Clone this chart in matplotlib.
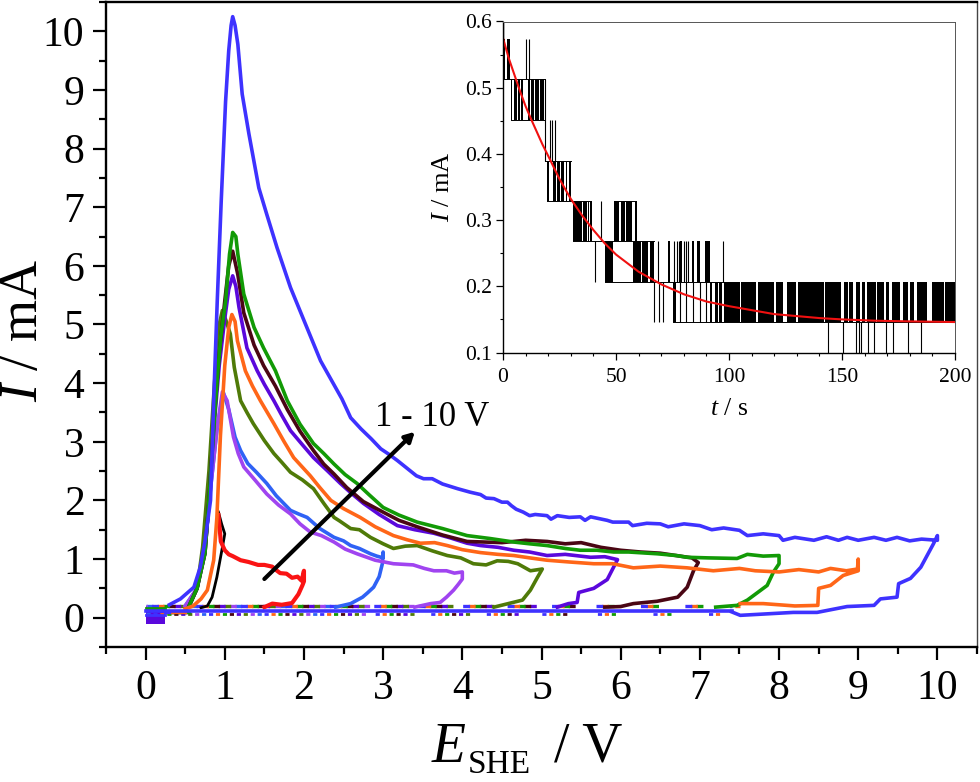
import matplotlib
matplotlib.use('Agg')
import matplotlib.pyplot as plt
from matplotlib.ticker import MultipleLocator, FormatStrFormatter

plt.rcParams['font.family'] = ['Liberation Serif', 'DejaVu Serif']
plt.rcParams['mathtext.fontset'] = 'custom'
plt.rcParams['mathtext.rm'] = 'Liberation Serif'
plt.rcParams['mathtext.it'] = 'Liberation Serif:italic'
plt.rcParams['lines.scale_dashes'] = False

# main sweeps: rise, peak, decay, way back to baseline
x_2v_rise = [0.70, 0.78, 0.84, 0.90, 0.97, 1.00, 0.96, 0.92]
y_2v_rise = [0.17, 0.20, 0.35, 0.69, 1.20, 1.43, 1.60, 1.80]
x_2v = [0.92, 0.95, 1.00, 1.05, 1.10, 1.20, 1.30, 1.42, 1.50, 1.60, 1.64, 1.70, 1.78, 1.85, 1.92, 1.97, 2.00, 2.00, 1.98, 1.93, 1.85, 1.72, 1.60, 1.50]
y_2v = [1.75, 1.30, 1.15, 1.08, 1.05, 0.98, 0.95, 0.90, 0.90, 0.87, 0.82, 0.76, 0.75, 0.68, 0.70, 0.63, 0.80, 0.62, 0.55, 0.40, 0.25, 0.22, 0.24, 0.18]

x_3v = [0.50, 0.65, 0.75, 0.82, 0.90, 0.98, 1.05, 1.13, 1.20, 1.29, 1.40, 1.53, 1.65, 1.83, 1.93, 2.04, 2.20, 2.38, 2.50, 2.59, 2.70, 2.84, 2.92, 3.00, 3.00, 2.99, 2.95, 2.88, 2.80, 2.74, 2.59, 2.40]
y_3v = [0.20, 0.50, 1.20, 2.20, 3.20, 3.85, 3.55, 3.08, 2.85, 2.63, 2.48, 2.29, 2.08, 1.83, 1.77, 1.71, 1.52, 1.37, 1.31, 1.23, 1.18, 1.09, 1.05, 1.02, 1.12, 0.92, 0.70, 0.52, 0.42, 0.35, 0.24, 0.18]

x_4v = [0.50, 0.65, 0.75, 0.82, 0.90, 0.97, 1.03, 1.11, 1.17, 1.24, 1.38, 1.53, 1.68, 1.83, 1.95, 2.08, 2.22, 2.38, 2.52, 2.67, 2.90, 3.13, 3.38, 3.52, 3.64, 3.80, 3.90, 4.00, 4.00, 3.95, 3.89, 3.80, 3.72, 3.60, 3.40]
y_4v = [0.20, 0.50, 1.20, 2.20, 3.20, 3.85, 3.70, 3.08, 2.80, 2.57, 2.35, 2.11, 1.92, 1.77, 1.60, 1.46, 1.40, 1.29, 1.17, 1.09, 0.98, 0.92, 0.90, 0.84, 0.80, 0.80, 0.76, 0.78, 0.66, 0.57, 0.47, 0.35, 0.26, 0.24, 0.18]

x_5v = [0.55, 0.65, 0.72, 0.80, 0.87, 0.93, 0.97, 1.02, 1.07, 1.12, 1.20, 1.28, 1.36, 1.50, 1.62, 1.72, 1.83, 1.98, 2.12, 2.25, 2.38, 2.45, 2.59, 2.70, 2.84, 3.00, 3.13, 3.28, 3.43, 3.62, 3.81, 3.98, 4.14, 4.30, 4.44, 4.58, 4.70, 4.78, 4.86, 5.01, 4.95, 4.86, 4.76, 4.61, 4.40]
y_5v = [0.20, 0.50, 1.20, 2.50, 4.00, 5.00, 5.24, 5.05, 4.84, 4.27, 3.70, 3.50, 3.31, 3.02, 2.80, 2.65, 2.48, 2.35, 2.20, 1.95, 1.71, 1.65, 1.52, 1.50, 1.37, 1.26, 1.18, 1.22, 1.23, 1.14, 1.06, 1.02, 0.92, 0.90, 0.97, 0.96, 0.92, 0.86, 0.80, 0.83, 0.69, 0.47, 0.30, 0.25, 0.18]

x_6v = [0.55, 0.65, 0.75, 0.80, 0.86, 0.93, 1.00, 1.05, 1.10, 1.14, 1.18, 1.28, 1.41, 1.50, 1.62, 1.72, 1.83, 1.98, 2.12, 2.30, 2.46, 2.60, 2.75, 2.95, 3.18, 3.40, 3.64, 3.85, 4.06, 4.23, 4.45, 4.65, 4.85, 5.07, 5.30, 5.62, 5.80, 5.96, 5.91, 5.83, 5.66, 5.47, 5.45, 5.34, 5.20]
y_6v = [0.20, 0.50, 1.10, 2.00, 3.20, 4.30, 5.10, 5.60, 5.83, 5.65, 5.29, 4.60, 4.21, 3.98, 3.70, 3.45, 3.19, 2.95, 2.73, 2.50, 2.29, 2.12, 1.95, 1.76, 1.57, 1.50, 1.44, 1.36, 1.27, 1.23, 1.20, 1.15, 1.12, 1.06, 1.08, 1.03, 1.04, 0.99, 0.86, 0.65, 0.50, 0.43, 0.26, 0.24, 0.18]

x_7v = [0.55, 0.65, 0.75, 0.80, 0.86, 0.93, 1.00, 1.05, 1.10, 1.165, 1.24, 1.37, 1.49, 1.64, 1.79, 1.95, 2.12, 2.25, 2.38, 2.54, 2.75, 3.00, 3.20, 3.43, 3.75, 4.06, 4.50, 4.80, 5.07, 5.30, 5.50, 5.75, 6.00, 6.25, 6.50, 6.70, 6.90, 6.98, 6.92, 6.84, 6.72, 6.46, 6.16, 6.00, 5.80]
y_7v = [0.20, 0.50, 1.10, 2.00, 3.30, 4.50, 5.40, 6.00, 6.25, 5.85, 5.20, 4.65, 4.30, 3.95, 3.55, 3.18, 2.85, 2.62, 2.45, 2.22, 1.98, 1.80, 1.66, 1.55, 1.41, 1.30, 1.28, 1.32, 1.30, 1.26, 1.28, 1.20, 1.15, 1.12, 1.10, 1.06, 1.02, 0.94, 0.80, 0.52, 0.35, 0.28, 0.24, 0.19, 0.18]

x_8v = [0.55, 0.65, 0.75, 0.80, 0.85, 0.90, 0.95, 1.01, 1.06, 1.10, 1.14, 1.165, 1.24, 1.37, 1.49, 1.64, 1.79, 1.95, 2.12, 2.25, 2.38, 2.52, 2.67, 2.82, 3.00, 3.20, 3.43, 3.75, 4.06, 4.35, 4.65, 4.85, 5.07, 5.30, 5.49, 5.70, 5.91, 6.10, 6.46, 6.70, 6.84, 7.10, 7.47, 7.60, 7.80, 8.00, 8.00, 7.93, 7.85, 7.72, 7.60, 7.47, 7.20]
y_8v = [0.20, 0.50, 1.10, 2.00, 3.00, 4.00, 4.80, 5.40, 6.20, 6.57, 6.50, 6.20, 5.52, 4.95, 4.60, 4.21, 3.70, 3.30, 2.97, 2.80, 2.62, 2.44, 2.29, 2.10, 1.88, 1.75, 1.63, 1.52, 1.40, 1.35, 1.29, 1.26, 1.23, 1.18, 1.15, 1.15, 1.12, 1.12, 1.09, 1.06, 1.03, 1.02, 1.01, 1.08, 1.05, 1.06, 0.92, 0.78, 0.55, 0.42, 0.30, 0.21, 0.18]

x_9v = [0.50, 0.60, 0.70, 0.78, 0.86, 0.90, 0.945, 1.00, 1.05, 1.09, 1.13, 1.16, 1.26, 1.35, 1.45, 1.62, 1.75, 1.87, 2.08, 2.20, 2.34, 2.50, 2.71, 2.90, 3.13, 3.30, 3.47, 3.65, 3.81, 4.00, 4.23, 4.45, 4.65, 4.85, 5.07, 5.35, 5.66, 5.90, 6.16, 6.50, 6.84, 7.17, 7.50, 7.70, 8.00, 8.25, 8.50, 8.65, 8.85, 8.99, 9.00, 9.00, 8.81, 8.65, 8.50, 8.49, 8.20, 7.80, 7.51]
y_9v = [0.15, 0.20, 0.32, 0.47, 0.98, 1.70, 3.10, 4.30, 4.95, 5.17, 5.05, 4.72, 4.21, 3.95, 3.70, 3.31, 3.00, 2.73, 2.42, 2.22, 2.00, 1.86, 1.71, 1.55, 1.40, 1.33, 1.27, 1.28, 1.23, 1.16, 1.11, 1.08, 1.06, 1.02, 0.98, 0.95, 0.92, 0.92, 0.85, 0.88, 0.85, 0.80, 0.84, 0.80, 0.78, 0.82, 0.78, 0.84, 0.80, 0.83, 1.00, 0.80, 0.72, 0.55, 0.50, 0.21, 0.20, 0.24, 0.24]

x_10v = [0.30, 0.44, 0.61, 0.69, 0.75, 0.82, 0.84, 0.86, 0.905, 0.955, 1.01, 1.05, 1.08, 1.10, 1.13, 1.165, 1.22, 1.305, 1.43, 1.53, 1.66, 1.83, 2.00, 2.21, 2.48, 2.59, 2.72, 2.85, 2.97, 3.08, 3.18, 3.30, 3.42, 3.51, 3.62, 3.75, 3.94, 4.10, 4.23, 4.30, 4.40, 4.50, 4.57, 4.62, 4.68, 4.77, 4.85, 4.92, 5.07, 5.12, 5.20, 5.35, 5.49, 5.55, 5.62, 5.83, 5.90, 6.10, 6.15, 6.33, 6.50, 6.60, 6.80, 7.00, 7.15, 7.30, 7.50, 7.60, 7.80, 8.00, 8.05, 8.20, 8.44, 8.60, 8.75, 8.86, 9.00, 9.20, 9.35, 9.49, 9.65, 9.80, 10.00, 10.00, 9.95, 9.79, 9.66, 9.51, 9.49, 9.28, 9.20, 8.86, 8.48, 8.18, 7.51, 7.40]
y_10v = [0.22, 0.32, 0.52, 0.86, 1.30, 2.00, 2.80, 3.70, 5.40, 7.10, 8.80, 9.67, 10.10, 10.25, 10.10, 9.78, 8.93, 8.25, 7.33, 6.88, 6.31, 5.63, 5.07, 4.38, 3.73, 3.41, 3.22, 3.05, 2.88, 2.78, 2.68, 2.55, 2.42, 2.37, 2.37, 2.28, 2.20, 2.14, 2.10, 2.04, 2.03, 1.97, 1.97, 1.91, 1.85, 1.80, 1.74, 1.76, 1.74, 1.68, 1.74, 1.71, 1.72, 1.66, 1.72, 1.66, 1.63, 1.63, 1.57, 1.61, 1.60, 1.55, 1.60, 1.57, 1.50, 1.53, 1.49, 1.40, 1.43, 1.40, 1.32, 1.37, 1.32, 1.38, 1.32, 1.37, 1.32, 1.37, 1.32, 1.37, 1.31, 1.34, 1.32, 1.40, 1.26, 0.86, 0.67, 0.58, 0.35, 0.32, 0.21, 0.19, 0.09, 0.09, 0.04, 0.10]

sweep_x = [x_3v, x_4v, x_5v, x_6v, x_7v, x_8v, x_9v, x_10v]
sweep_y = [y_3v, y_4v, y_5v, y_6v, y_7v, y_8v, y_9v, y_10v]
sweep_colors = ['#2f62f5', '#a044f0', '#4f7a08', '#5a08dc', '#4a0614', '#129a06', '#ff6618', '#3e32ff']

# inset, current levels of the noisy black trace
levels = [0.085, 0.146, 0.207, 0.268, 0.329, 0.390, 0.451, 0.513, 0.574]
blocks_574 = [(0.5, 1.0), (1.8, 3.0)]
spikes_574 = [10.0, 11.3]
blocks_513 = [(3.5, 4.2), (4.8, 6.2), (6.8, 7.5), (8.0, 9.0), (11.0, 12.0), (12.5, 13.5), (14.0, 16.0), (16.4, 18.3)]
spikes_513 = [18.8]
spikes_451 = [18.5, 21.0, 21.6, 23.0]
blocks_390 = [(19.5, 20.5), (22.3, 23.5), (24.0, 25.2), (25.7, 27.0), (27.8, 28.5), (29.0, 30.0)]
blocks_329 = [(30.8, 33.0), (33.4, 35.0), (35.5, 37.0), (37.5, 38.0), (38.6, 39.5), (49.0, 51.5), (52.0, 54.0), (54.5, 57.0), (58.2, 59.2)]
spikes_329 = [43.5]
blocks_268 = [(45.0, 48.5), (57.5, 61.0), (61.5, 64.0), (65.0, 67.0), (73.0, 74.0), (78.5, 79.0), (83.5, 84.5), (86.0, 87.0), (89.5, 91.5)]
spikes_268 = [40.5, 68.5, 75.5, 77.0, 78.0, 80.0, 81.0, 82.0, 97.5]
blocks_207 = [(75.0, 76.5), (91.5, 92.5), (94.0, 95.0), (95.5, 97.0), (98.0, 105.0), (105.5, 112.0), (113.0, 120.0), (121.0, 124.0), (125.7, 129.5), (130.5, 142.0), (142.4, 149.5),
              (151.0, 152.5), (153.0, 155.0), (156.0, 158.0), (159.0, 160.0), (161.0, 165.0), (165.5, 168.7), (169.5, 171.0), (172.0, 175.5),
              (177.0, 179.0), (180.0, 182.0), (183.0, 187.7), (189.7, 195.0), (195.5, 200.0)]
spikes_207 = [67.0, 69.0, 71.0, 78.5, 81.0, 84.0, 87.0, 90.0]
spikes_146 = [144.0, 150.5, 156.0, 157.5, 158.5, 161.5, 164.0, 169.5, 172.5, 179.0, 185.0]

# horizontal runs along the level lines (level index, start, end)
runs = [(7, 0.5, 18.5), (6, 3.5, 18.5), (5, 18.5, 30.0), (4, 19.5, 38.0), (4, 49.0, 59.0), (3, 30.8, 67.0), (2, 45.0, 98.0), (1, 75.0, 200.0)]

t_fit = [0, 2.5, 5, 7.5, 10, 12.5, 15, 17.5, 20, 25, 30, 35, 40, 45, 50, 55, 60, 70, 80, 90, 100, 110, 120, 130, 140, 150, 165, 180, 200]
i_fit = [0.575, 0.545, 0.520, 0.495, 0.472, 0.452, 0.433, 0.414, 0.397, 0.362, 0.332, 0.307, 0.285, 0.265, 0.248, 0.235, 0.222, 0.203, 0.188, 0.177, 0.170, 0.164, 0.158, 0.155, 0.152, 0.150, 0.148, 0.147, 0.146]

W, H = 980.0, 782.0
fig = plt.figure(figsize=(W / 100, H / 100), dpi=100, facecolor='white')
ax = fig.add_axes([106 / W, 1 - 647 / H, (977 - 106) / W, (647 - 2) / H])

# noisy baselines: short dashes with shifted offsets so the colours interleave
for i, (x, col) in enumerate(zip(sweep_x, sweep_colors)):
    ax.plot([0, x[-1]], [0.20, 0.20], color=col, lw=2.4, linestyle=(i * 4.0, (5.0, 27.0)))
    ax.plot([0, x[-1]], [0.07, 0.07], color=col, lw=2.0, linestyle=(i * 5.0, (3.0, 37.0)))
    ax.plot([0.25, x[0]], [0.1, 0.1], color=col, lw=2.3)

ax.fill_between([0, 0.25], -0.1, 0.2, color=sweep_colors[3], lw=0)
ax.plot([0, 0.25], [0.17, 0.17], color=sweep_colors[5], lw=2.0)
ax.plot([0, 0.25], [0.05, 0.05], color=sweep_colors[-1], lw=2.0)

ax.plot(x_2v_rise, y_2v_rise, color='black', lw=2.0)
ax.plot(x_2v, y_2v, color='#fa1414', lw=3.0)
for x, y, col in zip(sweep_x, sweep_y, sweep_colors):
    ax.plot(x, y, color=col, lw=2.6, solid_joinstyle='round')
ax.plot([0, 7.4], [0.11, 0.11], color=sweep_colors[-1], lw=2.6)

ax.annotate('', xy=(3.4, 3.17), xytext=(1.5, 0.66),
            arrowprops=dict(arrowstyle='-|>,head_length=0.55,head_width=0.3', color='black', lw=3.0, shrinkA=0, shrinkB=0))
ax.text(3.62, 3.42, '1 - 10 V', fontsize=25, ha='center', va='center')

ax.set_xlim(-0.5, 10.5)
ax.set_ylim(-0.5, 10.5)
ax.xaxis.set_major_locator(MultipleLocator(1))
ax.xaxis.set_minor_locator(MultipleLocator(0.5))
ax.yaxis.set_major_locator(MultipleLocator(1))
ax.yaxis.set_minor_locator(MultipleLocator(0.5))
ax.tick_params(which='major', length=9.5, width=1.6, labelsize=30, pad=6)
ax.tick_params(which='minor', length=5, width=1.6)
ax.tick_params(axis='x', which='major', pad=7)
for name in ['left', 'bottom', 'top']:
    ax.spines[name].set_linewidth(1.7)
ax.spines['right'].set_linewidth(1.0)
ax.spines['right'].set_color('#444444')

# axis titles placed by hand, the subscript sits lower than mathtext would put it
fig.text(432 / W, 1 - 762 / H, 'E', fontsize=40, style='italic', ha='left', va='baseline')
fig.text(468 / W, 1 - 773 / H, 'SHE', fontsize=24, ha='left', va='baseline')
fig.text(622 / W, 1 - 762 / H, '/ V', fontsize=40, ha='right', va='baseline')
fig.text(24 / W, 1 - 330 / H, r'$\mathit{I}$ / mA', fontsize=39, rotation=90, ha='center', va='center')

# inset
axi = fig.add_axes([503 / W, 1 - 352.5 / H, (955 - 503) / W, (352.5 - 21.5) / H], facecolor='white')
band_blocks = [(7, blocks_574), (6, blocks_513), (4, blocks_390), (3, blocks_329), (2, blocks_268), (1, blocks_207)]
for lev, blocks in band_blocks:
    for a, b in blocks:
        axi.fill_between([a, b], levels[lev], levels[lev + 1], color='black', lw=0)
band_spikes = [(7, spikes_574), (6, spikes_513), (5, spikes_451), (3, spikes_329), (2, spikes_268), (1, spikes_207), (0, spikes_146)]
for lev, spikes in band_spikes:
    axi.vlines(spikes, levels[lev], levels[lev + 1], color='black', lw=0.8)
axi.vlines([0.2], levels[7], 0.6, color='black', lw=1.0)
for lev, a, b in runs:
    axi.plot([a, b], [levels[lev], levels[lev]], color='black', lw=0.7)
axi.plot(t_fit, i_fit, color='#f01010', lw=1.5)

axi.set_xlim(0, 200)
axi.set_ylim(0.1, 0.6)
axi.xaxis.set_major_locator(MultipleLocator(50))
axi.xaxis.set_minor_locator(MultipleLocator(10))
axi.yaxis.set_major_locator(MultipleLocator(0.1))
axi.yaxis.set_minor_locator(MultipleLocator(0.05))
axi.yaxis.set_major_formatter(FormatStrFormatter('%.1f'))
axi.tick_params(which='major', length=5, width=0.9, labelsize=15.5, pad=3)
axi.tick_params(axis='x', which='major', pad=6)
axi.tick_params(which='minor', length=2.5, width=0.8)
for name in ['left', 'bottom']:
    axi.spines[name].set_linewidth(1.0)
for name in ['top', 'right']:
    axi.spines[name].set_linewidth(0.7)
    axi.spines[name].set_color('#555555')
axi.set_xlabel(r'$\mathit{t}$ / s', fontsize=18.5, labelpad=8)
axi.set_ylabel(r'$\mathit{I}$ / mA', fontsize=19, labelpad=8)

fig.savefig('out.png', dpi=100)
